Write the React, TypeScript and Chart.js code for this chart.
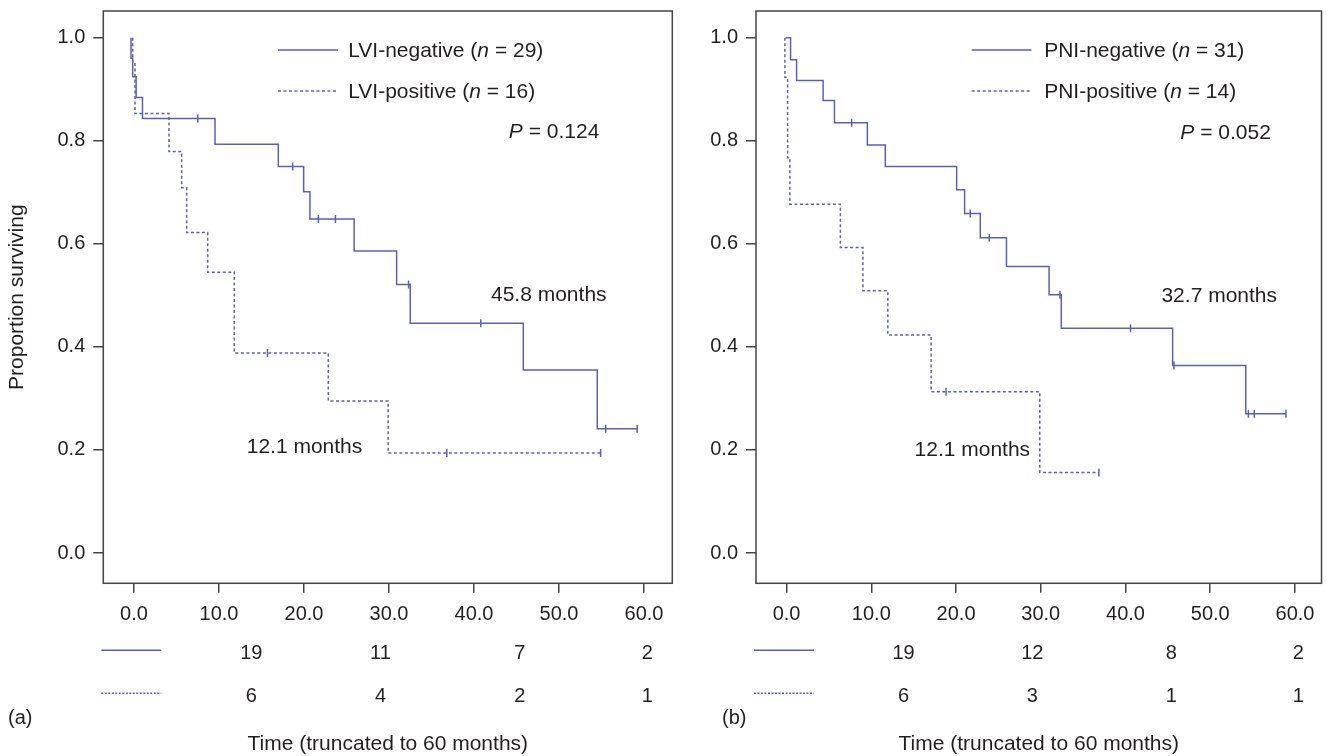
import React, { useEffect, useRef } from "react";
import { Chart, registerables } from "chart.js";

Chart.register(...registerables);

// ---------- data ----------
const X_TICKS = [0, 10, 20, 30, 40, 50, 60];
const Y_TICKS = [0, 0.2, 0.4, 0.6, 0.8, 1.0];
const RISK_T = [13.8, 29.0, 45.4, 60.4];

// Panel (a): LVI
const LVI_NEG_T = [-0.35, -0.35, -0.15, 0.25, 1.0, 9.53, 16.98, 19.96, 20.7, 25.9, 30.9, 32.5, 45.8, 54.5, 59.2];
const LVI_NEG_S = [1.0, 0.96, 0.924, 0.884, 0.843, 0.793, 0.75, 0.701, 0.648, 0.586, 0.521, 0.446, 0.355, 0.241, 0.241];
const LVI_NEG_CENS_T = [7.5, 18.67, 21.7, 23.7, 32.3, 40.8, 55.5, 59.2];
const LVI_NEG_CENS_S = [0.843, 0.75, 0.648, 0.648, 0.521, 0.446, 0.241, 0.241];

const LVI_POS_T = [-0.15, -0.15, 0.12, 4.12, 5.61, 6.2, 8.67, 11.8, 22.86, 29.9, 54.9];
const LVI_POS_S = [1.0, 0.953, 0.853, 0.779, 0.709, 0.622, 0.545, 0.388, 0.295, 0.194, 0.194];
const LVI_POS_CENS_T = [15.7, 36.8, 54.9];
const LVI_POS_CENS_S = [0.388, 0.194, 0.194];

const LVI_NEG_RISK = [19, 11, 7, 2];
const LVI_POS_RISK = [6, 4, 2, 1];

// Panel (b): PNI
const PNI_NEG_T = [-0.12, 0.47, 1.18, 4.31, 5.65, 9.53, 11.65, 20.07, 21.01, 22.86, 25.95, 30.98, 32.42, 45.56, 54.19, 58.94];
const PNI_NEG_S = [1.0, 0.957, 0.917, 0.878, 0.835, 0.792, 0.75, 0.705, 0.659, 0.612, 0.556, 0.501, 0.436, 0.364, 0.27, 0.27];
const PNI_NEG_CENS_T = [7.68, 21.68, 23.92, 32.27, 40.59, 45.72, 54.5, 55.2, 58.94];
const PNI_NEG_CENS_S = [0.835, 0.659, 0.612, 0.501, 0.436, 0.364, 0.27, 0.27, 0.27];

const PNI_POS_T = [-0.2, -0.2, 0.12, 0.39, 6.35, 9.01, 11.95, 17.06, 29.88, 36.86];
const PNI_POS_S = [1.0, 0.923, 0.767, 0.677, 0.593, 0.509, 0.423, 0.313, 0.156, 0.156];
const PNI_POS_CENS_T = [18.82, 36.86];
const PNI_POS_CENS_S = [0.313, 0.156];

const PNI_NEG_RISK = [19, 12, 8, 2];
const PNI_POS_RISK = [6, 3, 1, 1];

// ---------- style ----------
const CURVE = "#5c60b4";
const INK = "#231f20";
const AXIS = "#444444";
const FAMILY = '"Liberation Sans", Arial, Helvetica, sans-serif';
const FONT_SIZE = 20;
const TEXT_SIZE = 21;
const DASH = [3, 2.5];

const zip = (t: number[], s: number[]) => t.map((v, i) => ({ x: v, y: s[i] }));

type Seg = { text: string; italic?: boolean };

function drawRich(ctx: CanvasRenderingContext2D, segs: Seg[], x: number, y: number) {
  let cx = x;
  ctx.textAlign = "left";
  ctx.textBaseline = "middle";
  ctx.fillStyle = INK;
  for (const s of segs) {
    ctx.font = `${s.italic ? "italic " : ""}${TEXT_SIZE}px ${FAMILY}`;
    ctx.fillText(s.text, cx, y);
    cx += ctx.measureText(s.text).width;
  }
}

type PanelCfg = {
  left: number;
  width: number;
  yAxisWidth: number;
  padRight: number;
  xMax: number;
  yTitle: boolean;
  letter: string;
  letterX: number;
  negLabel: string;
  negN: string;
  posLabel: string;
  posN: string;
  pText: string;
  negMedian: string;
  posMedian: string;
  negT: number[]; negS: number[]; negCT: number[]; negCS: number[];
  posT: number[]; posS: number[]; posCT: number[]; posCS: number[];
  negRisk: number[]; posRisk: number[];
  legendLine: [number, number];
  legendText: number;
  legendY: [number, number];
  pPos: [number, number];
  negMedPos: [number, number];
  posMedPos: [number, number];
};

const PANELS: PanelCfg[] = [
  {
    left: 0, width: 680, yAxisWidth: 103.3, padRight: 7.7, xMax: 63.33, yTitle: true,
    letter: "(a)", letterX: 8,
    negLabel: "LVI-negative", negN: "29", posLabel: "LVI-positive", posN: "16",
    pText: "0.124", negMedian: "45.8 months", posMedian: "12.1 months",
    negT: LVI_NEG_T, negS: LVI_NEG_S, negCT: LVI_NEG_CENS_T, negCS: LVI_NEG_CENS_S,
    posT: LVI_POS_T, posS: LVI_POS_S, posCT: LVI_POS_CENS_T, posCS: LVI_POS_CENS_S,
    negRisk: LVI_NEG_RISK, posRisk: LVI_POS_RISK,
    legendLine: [16.94, 24.0], legendText: 25.2, legendY: [0.976, 0.8966],
    pPos: [44.1, 0.817], negMedPos: [42.0, 0.5007], posMedPos: [13.26, 0.206],
  },
  {
    left: 680, width: 647, yAxisWidth: 76, padRight: 3.7, xMax: 63.13, yTitle: false,
    letter: "(b)", letterX: 42,
    negLabel: "PNI-negative", negN: "31", posLabel: "PNI-positive", posN: "14",
    pText: "0.052", negMedian: "32.7 months", posMedian: "12.1 months",
    negT: PNI_NEG_T, negS: PNI_NEG_S, negCT: PNI_NEG_CENS_T, negCS: PNI_NEG_CENS_S,
    posT: PNI_POS_T, posS: PNI_POS_S, posCT: PNI_POS_CENS_T, posCS: PNI_POS_CENS_S,
    negRisk: PNI_NEG_RISK, posRisk: PNI_POS_RISK,
    legendLine: [21.84, 28.9], legendText: 30.4, legendY: [0.976, 0.8966],
    pPos: [46.47, 0.815], negMedPos: [44.24, 0.4987], posMedPos: [15.1, 0.1999],
  },
];

function overlayPlugin(cfg: PanelCfg) {
  return {
    id: "overlay",
    afterDraw(chart: any) {
      const { ctx, chartArea: a, scales } = chart;
      const x = scales.x, y = scales.y;
      ctx.save();
      // frame
      ctx.strokeStyle = AXIS;
      ctx.lineWidth = 1.5;
      ctx.setLineDash([]);
      ctx.strokeRect(a.left, a.top, a.right - a.left, a.bottom - a.top);

      // legend
      const seg = (x1: number, x2: number, yy: number, dash: number[]) => {
        ctx.beginPath();
        ctx.strokeStyle = CURVE;
        ctx.lineWidth = 1.5;
        ctx.setLineDash(dash);
        ctx.moveTo(x1, yy);
        ctx.lineTo(x2, yy);
        ctx.stroke();
        ctx.setLineDash([]);
      };
      const lx1 = x.getPixelForValue(cfg.legendLine[0]);
      const lx2 = x.getPixelForValue(cfg.legendLine[1]);
      const tx = x.getPixelForValue(cfg.legendText);
      const ly1 = y.getPixelForValue(cfg.legendY[0]);
      const ly2 = y.getPixelForValue(cfg.legendY[1]);
      seg(lx1, lx2, ly1, []);
      seg(lx1, lx2, ly2, DASH);
      drawRich(ctx, [{ text: cfg.negLabel + " (" }, { text: "n", italic: true }, { text: " = " + cfg.negN + ")" }], tx, ly1 + 1);
      drawRich(ctx, [{ text: cfg.posLabel + " (" }, { text: "n", italic: true }, { text: " = " + cfg.posN + ")" }], tx, ly2 + 1);

      // P value
      drawRich(ctx, [{ text: "P", italic: true }, { text: " = " + cfg.pText }], x.getPixelForValue(cfg.pPos[0]), y.getPixelForValue(cfg.pPos[1]));
      // medians
      drawRich(ctx, [{ text: cfg.negMedian }], x.getPixelForValue(cfg.negMedPos[0]), y.getPixelForValue(cfg.negMedPos[1]));
      drawRich(ctx, [{ text: cfg.posMedian }], x.getPixelForValue(cfg.posMedPos[0]), y.getPixelForValue(cfg.posMedPos[1]));

      // numbers at risk
      seg(a.left - 2, a.left + 58, a.bottom + 67, []);
      seg(a.left - 2, a.left + 58, a.bottom + 110, [2, 1.5]);
      ctx.font = `${FONT_SIZE}px ${FAMILY}`;
      ctx.fillStyle = INK;
      ctx.textAlign = "center";
      ctx.textBaseline = "middle";
      RISK_T.forEach((t, i) => {
        const px = x.getPixelForValue(t);
        ctx.fillText(String(cfg.negRisk[i]), px, a.bottom + 70);
        ctx.fillText(String(cfg.posRisk[i]), px, a.bottom + 113.5);
      });
      // panel letter
      ctx.textAlign = "left";
      ctx.fillText(cfg.letter, cfg.letterX, a.bottom + 135);
      ctx.restore();
    },
  };
}

function Panel({ cfg }: { cfg: PanelCfg }) {
  const ref = useRef<HTMLCanvasElement | null>(null);
  useEffect(() => {
    if (!ref.current) return;
    const font = { family: FAMILY, size: FONT_SIZE };
    const curve = (t: number[], s: number[], dash: number[]) => ({
      data: zip(t, s),
      stepped: true,
      borderColor: CURVE,
      borderWidth: 1.5,
      borderDash: dash,
      pointRadius: 0,
      fill: false,
      tension: 0,
    });
    const cens = (t: number[], s: number[]) => ({
      data: zip(t, s),
      showLine: false,
      pointStyle: "line",
      rotation: 90,
      pointRadius: 4,
      pointBorderWidth: 1.5,
      pointBorderColor: CURVE,
      borderColor: CURVE,
      pointBackgroundColor: CURVE,
    });
    const chart = new Chart(ref.current, {
      type: "line",
      data: {
        datasets: [
          curve(cfg.negT, cfg.negS, []),
          curve(cfg.posT, cfg.posS, DASH),
          cens(cfg.negCT, cfg.negCS),
          cens(cfg.posCT, cfg.posCS),
        ] as any,
      },
      options: {
        responsive: false,
        animation: false,
        devicePixelRatio: 1,
        events: [],
        layout: { padding: { top: 11, right: cfg.padRight, left: 0, bottom: 0 } },
        plugins: { legend: { display: false }, tooltip: { enabled: false } },
        scales: {
          x: {
            type: "linear",
            min: -3.61,
            max: cfg.xMax,
            afterBuildTicks: (s: any) => { s.ticks = X_TICKS.map((v) => ({ value: v })); },
            afterFit: (s: any) => { s.height = 172.7; s.paddingLeft = 0; s.paddingRight = 0; },
            ticks: { callback: (v: any) => Number(v).toFixed(1), font, color: INK, padding: 10, maxRotation: 0, autoSkip: false },
            grid: { display: true, drawOnChartArea: false, drawTicks: true, tickLength: 9.5, color: AXIS, lineWidth: 1.5 },
            border: { display: false },
            title: { display: true, text: "Time (truncated to 60 months)", color: INK, font: { family: FAMILY, size: TEXT_SIZE, lineHeight: 1 }, padding: { top: 0, bottom: 1 } },
          },
          y: {
            type: "linear",
            min: -0.0588,
            max: 1.0518,
            afterBuildTicks: (s: any) => { s.ticks = Y_TICKS.map((v) => ({ value: v })); },
            afterFit: (s: any) => { s.width = cfg.yAxisWidth; s.paddingTop = 0; s.paddingBottom = 0; },
            ticks: { callback: (v: any) => Number(v).toFixed(1), font, color: INK, padding: 8 },
            grid: { display: true, drawOnChartArea: false, drawTicks: true, tickLength: 10, color: AXIS, lineWidth: 1.5 },
            border: { display: false },
            title: { display: cfg.yTitle, text: "Proportion surviving", color: INK, font: { family: FAMILY, size: TEXT_SIZE, lineHeight: 1.2 }, padding: { top: 4.5, bottom: 0 } },
          },
        },
      } as any,
      plugins: [overlayPlugin(cfg)],
    });
    return () => chart.destroy();
  }, [cfg]);
  return (
    <canvas
      ref={ref}
      width={cfg.width}
      height={756}
      style={{ position: "absolute", left: cfg.left, top: 0, width: cfg.width, height: 756 }}
    />
  );
}

export default function App() {
  return (
    <div style={{ position: "absolute", left: 0, top: 0, width: 1327, height: 756, background: "#ffffff", overflow: "hidden" }}>
      {PANELS.map((p) => (
        <Panel key={p.letter} cfg={p} />
      ))}
    </div>
  );
}
